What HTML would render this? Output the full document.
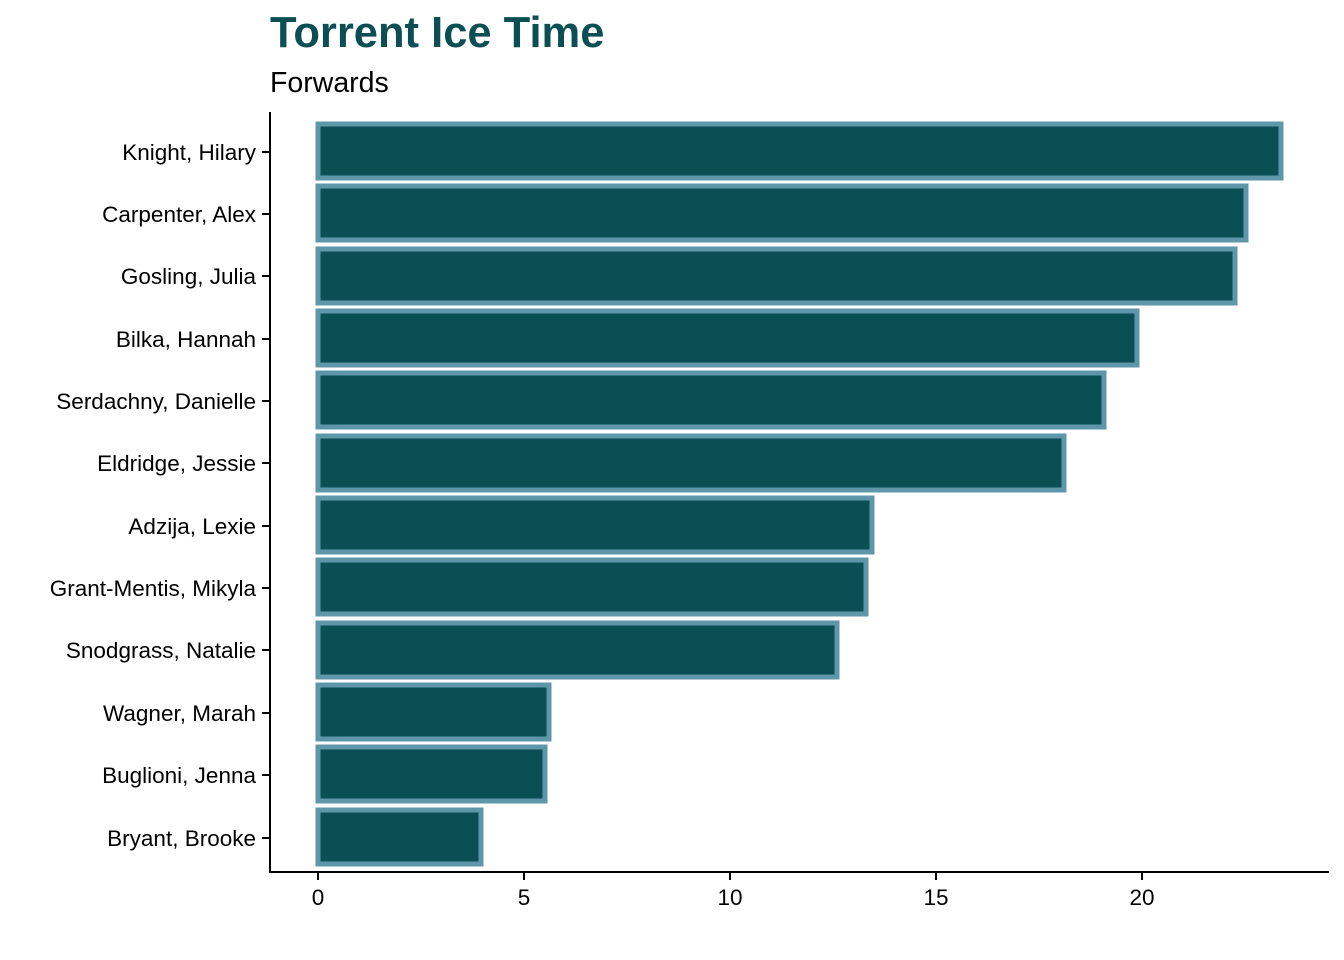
<!DOCTYPE html>
<html><head><style>body{margin:0;background:#fff}svg{display:block}text{font-family:"Liberation Sans",Arial,sans-serif}</style></head>
<body>
<svg width="1344" height="960" xmlns="http://www.w3.org/2000/svg">
<text x="270" y="47" font-size="43.5" font-weight="bold" fill="#0b4f55">Torrent Ice Time</text>
<text x="270" y="92" font-size="28.5" fill="#000">Forwards</text>
<g fill="#0b4f55" stroke="#5e97aa" stroke-width="5">
<rect x="318" y="124" width="963" height="54"/>
<rect x="318" y="186" width="928" height="54"/>
<rect x="318" y="249" width="917" height="54"/>
<rect x="318" y="311" width="819" height="54"/>
<rect x="318" y="373" width="786" height="54"/>
<rect x="318" y="436" width="746" height="54"/>
<rect x="318" y="498" width="554" height="54"/>
<rect x="318" y="560" width="548" height="54"/>
<rect x="318" y="623" width="519" height="54"/>
<rect x="318" y="685" width="231" height="54"/>
<rect x="318" y="747" width="227" height="54"/>
<rect x="318" y="810" width="163" height="54"/>
</g>
<g stroke="#000" stroke-width="2">
<line x1="270" y1="112" x2="270" y2="873"/>
<line x1="269" y1="872" x2="1329" y2="872"/>
<line x1="262" y1="152" x2="270" y2="152"/><line x1="262" y1="214" x2="270" y2="214"/><line x1="262" y1="276" x2="270" y2="276"/><line x1="262" y1="339" x2="270" y2="339"/><line x1="262" y1="401" x2="270" y2="401"/><line x1="262" y1="463" x2="270" y2="463"/><line x1="262" y1="526" x2="270" y2="526"/><line x1="262" y1="588" x2="270" y2="588"/><line x1="262" y1="650" x2="270" y2="650"/><line x1="262" y1="713" x2="270" y2="713"/><line x1="262" y1="775" x2="270" y2="775"/><line x1="262" y1="838" x2="270" y2="838"/>
<line x1="318" y1="872" x2="318" y2="880"/><line x1="524" y1="872" x2="524" y2="880"/><line x1="730" y1="872" x2="730" y2="880"/><line x1="936" y1="872" x2="936" y2="880"/><line x1="1142" y1="872" x2="1142" y2="880"/>
</g>
<g font-size="22.5" fill="#000" text-anchor="end">
<text x="256" y="160">Knight, Hilary</text>
<text x="256" y="222">Carpenter, Alex</text>
<text x="256" y="284">Gosling, Julia</text>
<text x="256" y="347">Bilka, Hannah</text>
<text x="256" y="409">Serdachny, Danielle</text>
<text x="256" y="471">Eldridge, Jessie</text>
<text x="256" y="534">Adzija, Lexie</text>
<text x="256" y="596">Grant-Mentis, Mikyla</text>
<text x="256" y="658">Snodgrass, Natalie</text>
<text x="256" y="721">Wagner, Marah</text>
<text x="256" y="783">Buglioni, Jenna</text>
<text x="256" y="846">Bryant, Brooke</text>
</g>
<g font-size="22.5" fill="#000" text-anchor="middle">
<text x="318" y="905">0</text><text x="524" y="905">5</text><text x="730" y="905">10</text><text x="936" y="905">15</text><text x="1142" y="905">20</text>
</g>
</svg>
</body></html>
